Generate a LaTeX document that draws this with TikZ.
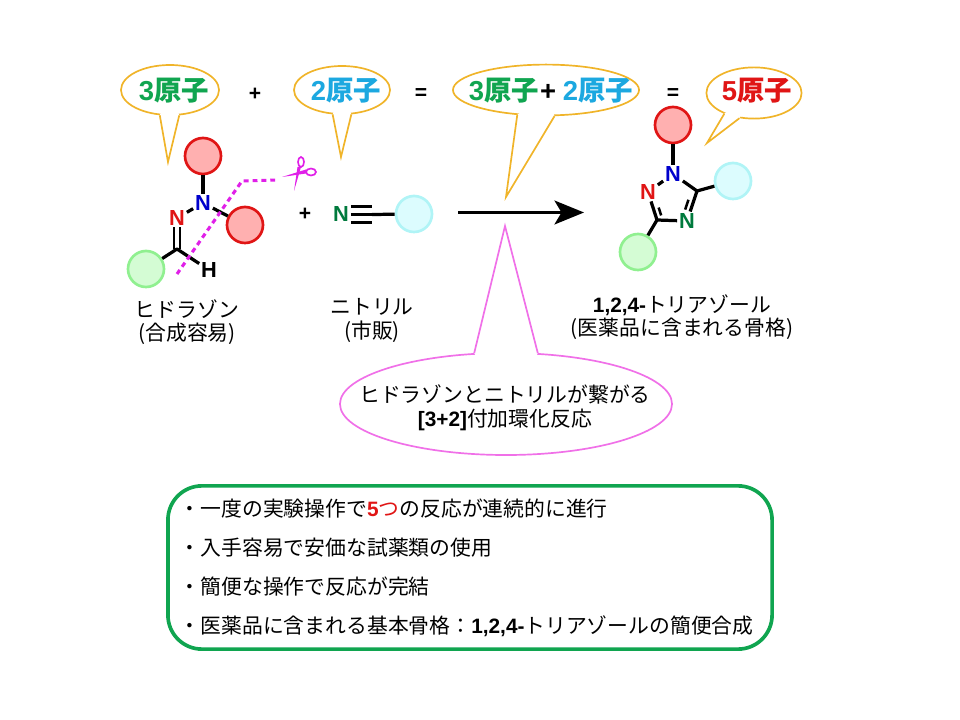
\documentclass[tikz,border=0pt]{standalone}
\usepackage{fontspec}
\setmainfont{Noto Sans CJK JP}
\newfontfamily\arialfont{Liberation Sans}
\usepackage{xcolor}
\definecolor{bubbleY}{HTML}{F0B429}
\definecolor{bubbleP}{HTML}{F070E8}
\definecolor{greenT}{HTML}{10A550}
\definecolor{cyanT}{HTML}{1CA8E0}
\definecolor{redT}{HTML}{E01515}
\definecolor{cutM}{HTML}{E020E8}
\definecolor{atomB}{HTML}{0000CC}
\definecolor{atomG}{HTML}{007A3D}
\definecolor{subRfill}{HTML}{FFB0B0}
\definecolor{subGline}{HTML}{90F090}
\definecolor{subGfill}{HTML}{D4FCD4}
\definecolor{subCline}{HTML}{B0F4F6}
\definecolor{subCfill}{HTML}{DCFCFE}
\usetikzlibrary{arrows.meta,shapes.geometric,calc}
\newcommand{\lat}[1]{{\arialfont\bfseries #1}}
\begin{document}
\begin{tikzpicture}[x=.025cm,y=-.025cm,
 bubble/.style={ellipse,draw=#1,fill=white,line width=1.2pt,inner sep=0pt},
 tail/.style={draw=#1,line width=1.2pt,line join=miter},
 count/.style={font=\fontsize{19.5}{23}\selectfont\bfseries,inner sep=0pt},
 op/.style={font=\arialfont\bfseries\fontsize{15}{17}\selectfont,inner sep=0pt},
 caption/.style={font=\fontsize{14.8}{16.8}\selectfont,align=center,inner sep=0pt},
 atom/.style={font=\arialfont\bfseries\fontsize{15.5}{18}\selectfont,inner sep=1.2pt},
 bond/.style={line width=2.3pt},
 sub/.style={circle,minimum size=.9cm,inner sep=0pt,line width=1.9pt},
 subR/.style={sub,draw=redT,fill=subRfill},
 subG/.style={sub,draw=subGline,fill=subGfill},
 subC/.style={sub,draw=subCline,fill=subCfill},
 cut/.style={cutM,line width=2.2pt,dash pattern=on 3.5pt off 2.8pt}]
 \useasboundingbox (0,0) rectangle (960,720);
 % speech bubbles
 \node[bubble=bubbleY,minimum width=2.45cm,minimum height=1.25cm] (call3) at (170,90) {};
 \node[bubble=bubbleY,minimum width=2.4cm,minimum height=1.2cm] (call2) at (342,90) {};
 \node[bubble=bubbleY,minimum width=4.65cm,minimum height=1.27cm] (callSum) at (546,90) {};
 \node[bubble=bubbleY,minimum width=2.38cm,minimum height=1.28cm] (call5) at (754,93) {};
 \node[bubble=bubbleP,minimum width=8.3cm,minimum height=2.55cm] (callRxn) at (506,404) {};
 \coordinate (call3tip) at (168,162);
 \coordinate (call2tip) at (341,157);
 \coordinate (callSumtip) at (506,197);
 \coordinate (call5tip) at (707,143);
 \coordinate (callRxntip) at (505,226);
 \foreach \bub/\from/\to/\col in {call3/248/290/bubbleY,call2/249/291/bubbleY,
 callSum/221/288/bubbleY,call5/215/240/bubbleY,callRxn/122/58/bubbleP}{
 \fill[white] (\bub.center)--(\bub.\from)--(\bub tip)--(\bub.\to)--cycle;
 \draw[tail=\col] (\bub.\from)--(\bub tip)--(\bub.\to);
 }
 \node[count,text=greenT] (txt3) at (174,91) {\lat{3}原子};
 \node[count,text=cyanT] (txt2) at (346,91) {\lat{2}原子};
 \node[count,text=greenT] (txtSum3) at (504,91) {\lat{3}原子};
 \node[count] (txtPlus) at (548,92) {\lat{+}};
 \node[count,text=cyanT] (txtSum2) at (598,91) {\lat{2}原子};
 \node[count,text=redT] (txt5) at (757,91) {\lat{5}原子};
 \node[op] (plusTop) at (255,94) {+};
 \node[op] (eqLeft) at (421,94) {=};
 \node[op] (eqRight) at (673,94) {=};
 % hydrazone
 \node[atom,text=atomB] (n1) at (203,203) {N};
 \node[atom,text=redT] (n2) at (177,218) {N};
 \coordinate (c1) at (177,249);
 \node[atom] (h1) at (209,270) {H};
 \node[subR] (r1) at (203,156) {};
 \node[subR] (r2) at (245,225) {};
 \node[subG] (g1) at (146,269) {};
 \draw[bond] (n1)--(r1);
 \draw[bond] (n1)--(r2);
 \draw[bond] (n1)--(n2);
 \draw[bond,double,double distance=2.2pt,line width=1.7pt] (n2)--(c1);
 \draw[bond,line join=round] (g1)--(c1)--(h1);
 % cut line and scissors
 \coordinate (cutA) at (177,274);
 \coordinate (cutB) at (242,181);
 \coordinate (cutC) at (277,180);
 \draw[cut] (cutA)--(cutB)--(cutC);
 \fill[cutM] (282,177)--(306,169.5)--(306,173.5)--cycle;
 \fill[cutM] (294,191)--(297.5,167)--(301,167)--cycle;
 \draw[cutM,line width=1.2pt] (311,172) ellipse (5 and 3.5);
 \draw[cutM,line width=1.2pt] (301,162) ellipse (3 and 5);
 \node[caption] (capHyd) at (187,322) {ヒドラゾン\\(合成容易)};
 % nitrile
 \node[op] (plusMid) at (305,214) {+};
 \node[atom,text=atomG] (n3) at (341,214.5) {N};
 \coordinate (c2) at (372,214.5);
 \node[subC] (c3) at (414,214) {};
 \draw[bond] (n3.east)--(c2);
 \draw[bond,transform canvas={yshift=5.5pt}] (n3.east)--(c2);
 \draw[bond,transform canvas={yshift=-5.5pt}] (n3.east)--(c2);
 \draw[bond] (c2)--(c3);
 \node[caption] (capNit) at (372,320.5) {ニトリル\\(市販)};
 % reaction arrow
 \coordinate (arrL) at (458,212.5);
 \coordinate (arrR) at (584,212.5);
 \draw[line width=1.9pt,-{Stealth[length=21pt,width=17pt,inset=5pt]}] (arrL)--(arrR);
 % triazole
 \node[atom,text=atomB] (n4) at (673,174) {N};
 \node[atom,text=redT] (n5) at (648,192) {N};
 \node[atom,text=atomG] (n6) at (687,221) {N};
 \coordinate (c4) at (697,191);
 \coordinate (c5) at (657,220);
 \node[subR] (r3) at (673,125) {};
 \node[subC] (c6) at (733,181) {};
 \node[subG] (g2) at (638,252) {};
 \draw[bond] (n4)--(r3);
 \draw[bond] (n4)--(n5);
 \draw[bond] (n4)--(c4);
 \draw[bond] (c4)--(n6);
 \draw[bond] (n6)--(c5);
 \draw[bond] (c5)--(n5);
 \draw[bond] (c4)--(c6);
 \draw[bond] (c5)--(g2);
 \draw[bond,line width=1.8pt,shorten >=3pt,shorten <=5pt,transform canvas={xshift=-4.5pt,yshift=-1.5pt}] (c4)--(n6);
 \draw[bond,line width=1.8pt,shorten >=3pt,shorten <=5pt,transform canvas={xshift=4.5pt,yshift=-1.5pt}] (c5)--(n5);
 \node[caption] (capTri) at (682,317) {\lat{1,2,4-}トリアゾール\\(医薬品に含まれる骨格)};
 \node[caption] (capRxn) at (505,408) {ヒドラゾンとニトリルが繋がる\\\lat{[3+2]}付加環化反応};
 % summary box
 \node[draw=greenT,line width=2.6pt,rounded corners=.85cm,minimum width=15.1cm,minimum height=4.08cm,
 text width=14.5cm,align=left,inner sep=0pt,font=\fontsize{14.8}{27.7}\selectfont] (summary) at (470,567.5)
 {・一度の実験操作で{\color{redT}\lat{5}つ}の反応が連続的に進行\\
 ・入手容易で安価な試薬類の使用\\
 ・簡便な操作で反応が完結\\
 ・医薬品に含まれる基本骨格：\lat{1,2,4-}トリアゾールの簡便合成};
\end{tikzpicture}
\end{document}
